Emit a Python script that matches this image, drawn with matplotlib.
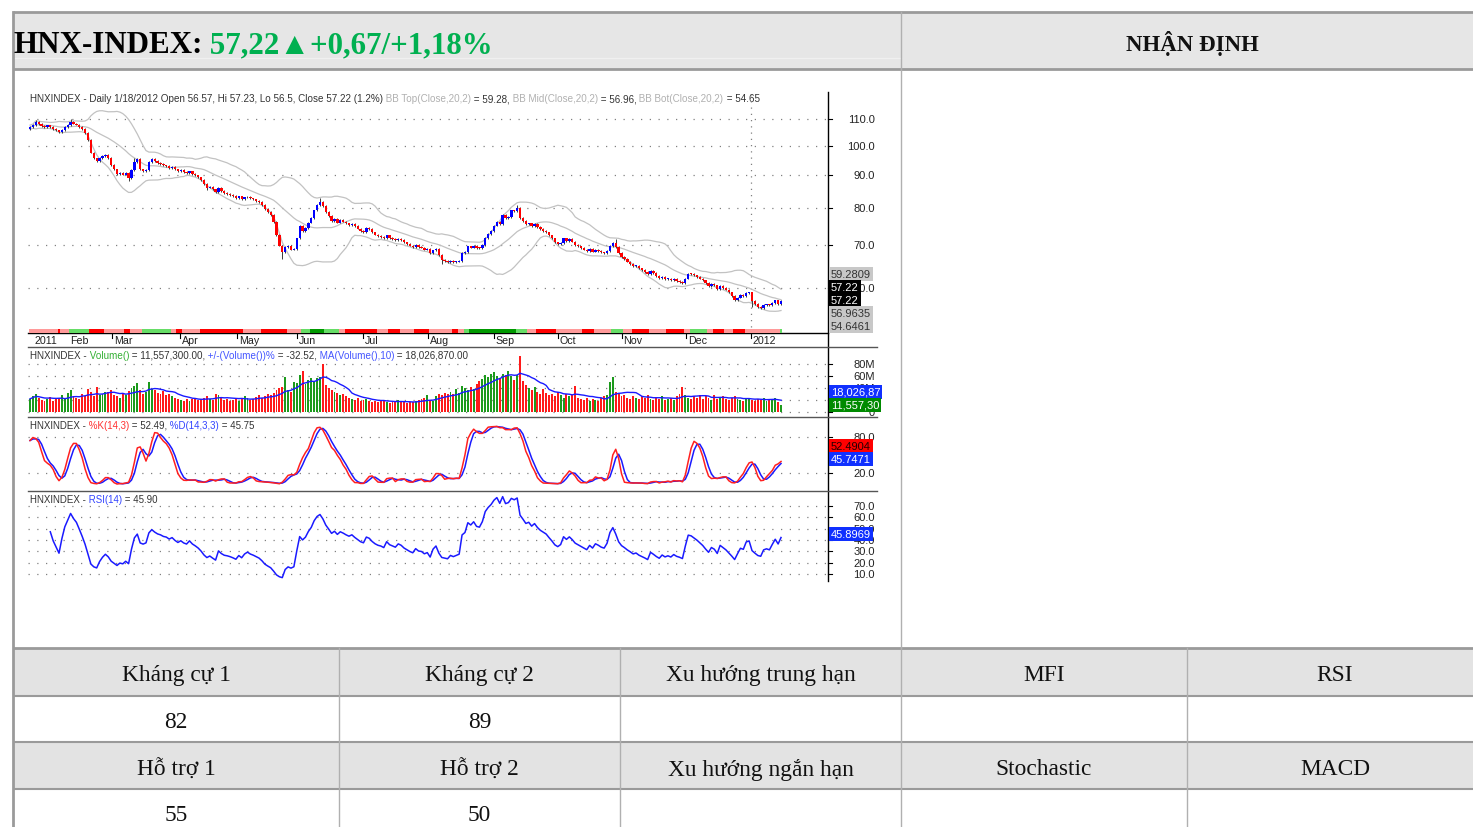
import numpy as np
import pandas as pd
import matplotlib
matplotlib.use("Agg")
import matplotlib.pyplot as plt
import matplotlib.transforms as mtrans
from matplotlib.patches import Rectangle
from matplotlib import font_manager

# ------------------------------------------------------------------ data
CLOSE = [
    106.8, 107.6, 108.7, 108.0, 107.3, 107.0, 107.5, 106.9, 106.2, 105.6,
    104.8, 105.8, 106.9, 107.7, 108.7, 108.2, 107.8, 107.0, 106.0, 104.6,
    102.0, 97.5, 95.5, 94.6, 95.6, 96.3, 96.8, 95.6, 93.2, 91.8,
    90.2, 90.6, 90.1, 90.5, 89.0, 91.6, 94.2, 95.2, 91.8, 91.3,
    91.6, 94.3, 95.3, 94.5, 93.9, 93.6, 93.1, 92.9, 92.3, 92.6,
    91.8, 91.2, 91.5, 90.9, 90.6, 91.1, 90.3, 89.8, 89.2, 88.3,
    87.0, 86.0, 86.2, 85.4, 84.6, 85.8, 84.9, 84.3, 84.1, 83.8,
    83.4, 82.9, 83.3, 82.6, 83.0, 83.2, 82.7, 82.4, 82.0, 81.6,
    80.8, 79.6, 78.8, 78.0, 76.0, 72.5, 69.8, 68.2, 69.4, 69.8,
    68.8, 69.0, 71.6, 74.8, 73.6, 74.3, 75.8, 77.0, 79.2, 80.8,
    81.6, 80.5, 78.8, 77.6, 76.2, 76.8, 75.8, 76.5, 76.1, 75.6,
    75.2, 75.5, 74.8, 74.2, 73.6, 73.3, 74.3, 74.0, 73.2, 72.6,
    72.2, 72.0, 71.6, 72.4, 71.7, 71.4, 71.1, 71.5, 71.2, 70.6,
    70.2, 69.8, 69.5, 69.9, 69.4, 69.3, 68.8, 68.9, 67.9, 68.6,
    68.9, 67.4, 66.2, 66.0, 65.8, 66.1, 65.8, 65.9, 66.0, 67.9,
    68.2, 69.6, 69.3, 69.8, 69.2, 69.1, 69.9, 71.8, 72.8, 73.6,
    75.0, 76.0, 75.3, 78.0, 77.0, 77.4, 79.2, 79.0, 79.8, 77.0,
    76.2, 75.3, 75.6, 74.8, 75.4, 74.6, 74.0, 73.6, 73.2, 72.4,
    71.6, 70.6, 70.1, 70.4, 71.6, 71.0, 71.4, 70.8, 70.0, 69.6,
    69.2, 68.8, 68.4, 68.9, 68.3, 68.8, 68.5, 68.1, 67.9, 68.4,
    69.7, 70.4, 69.4, 67.9, 67.0, 66.5, 65.9, 65.4, 64.8, 64.9,
    64.3, 63.9, 63.5, 63.0, 63.7, 63.2, 62.6, 62.1, 62.4, 61.9,
    62.0, 61.7, 61.9, 61.5, 61.3, 61.0, 62.0, 63.1, 63.0, 62.7,
    62.4, 62.0, 61.6, 61.0, 60.4, 60.8, 60.5, 59.7, 60.4, 60.0,
    59.6, 59.0, 58.3, 57.4, 57.9, 58.4, 58.2, 58.9, 59.0, 57.2,
    56.6, 56.0, 55.8, 56.4, 56.5, 56.3, 56.8, 57.3, 56.55, 57.22,
]
FIRST_OPEN = 106.2
LAST_OPEN = 56.57
HIGH_WICKS = {2: 109.7, 14: 109.9, 100: 82.9, 168: 80.7, 202: 71.4, 36: 95.6}
LOW_WICKS = {34: 87.9, 61: 85.2, 87: 66.4, 142: 65.4, 249: 55.9}

VOLUME_M = [
    22, 26, 30, 24, 20, 18, 22, 25, 19, 21,
    24, 28, 22, 31, 36, 27, 24, 22, 30, 26,
    38, 34, 26, 42, 28, 30, 34, 33, 36, 28,
    26, 24, 30, 28, 35, 40, 44, 48, 36, 30,
    34, 50, 38, 36, 32, 30, 35, 28, 30, 26,
    24, 22, 20, 18, 22, 19, 21, 24, 20, 22,
    24, 26, 22, 20, 30, 28, 24, 20, 22, 18,
    20, 23, 19, 22, 26, 24, 20, 22, 25, 28,
    24, 26, 30, 28, 32, 36, 40, 42, 58, 36,
    34, 50, 48, 62, 69, 46, 54, 57, 52, 56,
    58, 80, 45, 40, 36, 34, 32, 28, 30, 26,
    24, 22, 20, 24, 18, 20, 22, 19, 17, 18,
    16, 18, 20, 17, 15, 16, 18, 20, 17, 16,
    15, 17, 16, 18, 20, 22, 24, 28, 20, 18,
    26, 30, 28, 32, 30, 34, 30, 38, 32, 44,
    40, 36, 42, 38, 46, 52, 55, 62, 58, 64,
    66, 60, 56, 64, 62, 68, 60, 54, 62, 94,
    52, 45, 40, 36, 42, 34, 30, 38, 32, 28,
    30, 26, 34, 28, 24, 30, 26, 28, 44, 24,
    22, 20, 24, 18, 22, 20, 19, 24, 26, 28,
    50, 58, 34, 30, 26, 28, 24, 22, 26, 24,
    22, 26, 24, 28, 22, 20, 24, 22, 26, 20,
    22, 24, 20, 26, 30, 42, 28, 24, 22, 26,
    24, 28, 22, 26, 24, 20, 28, 22, 24, 26,
    22, 20, 24, 26, 22, 20, 18, 22, 24, 20,
    18, 22, 20, 24, 18, 22, 20, 24, 17, 11.56,
]

STRIP_CODES = ['P', 'R', 'P', 'G', 'R', 'P', 'R', 'P', 'G', 'P', 'R', 'P', 'R', 'P', 'R', 'P',
               'G', 'D', 'G', 'P', 'R', 'P', 'R', 'P', 'R', 'P', 'R', 'P', 'G', 'D', 'G', 'P',
               'R', 'P', 'R', 'P', 'G', 'P', 'R', 'P', 'R', 'P', 'G', 'P', 'R', 'P', 'R', 'P', 'G']
STRIP_LENGTHS = [10, 1, 3, 7, 5, 7, 2, 4, 10, 2, 2, 6, 15, 6, 9, 5,
                 3, 5, 5, 2, 11, 4, 4, 5, 5, 8, 2, 2, 2, 16, 4, 3,
                 7, 9, 4, 6, 4, 3, 6, 6, 6, 2, 6, 2, 4, 3, 4, 12, 1]

MONTH_LABELS = ["2011", "Feb", "Mar", "Apr", "May", "Jun", "Jul", "Aug", "Sep", "Oct", "Nov", "Dec", "2012"]
MONTH_POS = [0.7, 13.1, 28.2, 51.7, 71.5, 92.0, 114.9, 137.3, 160.0, 182.0, 204.0, 226.4, 248.6]
MONTH_TICKED = [False, False, True, True, True, True, True, True, True, True, True, True, True]
YEAR_BREAK = 248.6

PRICE_TICKS = [110, 100, 90, 80, 70, 60]
VOL_TICKS = [80, 60, 40, 20, 0]
VOL_TICK_LABELS = ["80M", "60M", "40M", "20M", "0"]
STOCH_TICKS = [80, 20]
RSI_TICKS = [70, 60, 50, 40, 30, 20, 10]

HEADER_BLACK = "HNX-INDEX:"
HEADER_GREEN = " 57,22\u25b2+0,67/+1,18%"
RIGHT_HEADER = "NHẬN ĐỊNH"
ROW1_LABELS = ["Kháng cự 1", "Kháng cự 2", "Xu hướng trung hạn", "MFI", "RSI"]
ROW1_VALUES = ["82", "89", "", "", ""]
ROW2_LABELS = ["Hỗ trợ 1", "Hỗ trợ 2", "Xu hướng ngắn hạn", "Stochastic", "MACD"]
ROW2_VALUES = ["55", "50", "", "", ""]

DARK = "#333333"
LGRAY = "#b0b0b0"
MAIN_TITLE = [("HNXINDEX - Daily 1/18/2012 Open 56.57, Hi 57.23, Lo 56.5, Close 57.22 (1.2%)", DARK),
              (" BB Top(Close,20,2)", LGRAY), (" = 59.28,", DARK),
              (" BB Mid(Close,20,2)", LGRAY), (" = 56.96,", DARK),
              (" BB Bot(Close,20,2)", LGRAY), (" = 54.65", DARK)]
VOL_TITLE = [("HNXINDEX -", DARK), (" Volume()", "#33b033"), (" = 11,557,300.00,", DARK),
             (" +/-(Volume())%", "#4455ff"), (" = -32.52,", DARK),
             (" MA(Volume(),10)", "#4455ff"), (" = 18,026,870.00", DARK)]
STOCH_TITLE = [("HNXINDEX -", DARK), (" %K(14,3)", "#ff3030"), (" = 52.49,", DARK),
               (" %D(14,3,3)", "#3344ff"), (" = 45.75", DARK)]
RSI_TITLE = [("HNXINDEX -", DARK), (" RSI(14)", "#3344ff"), (" = 45.90", DARK)]

MAIN_BOXES = [("59.2809", "#c8c8c8", DARK, 275), ("57.22", "black", "white", 288),
              ("57.22", "black", "white", 301), ("56.9635", "#c8c8c8", DARK, 314),
              ("54.6461", "#c8c8c8", DARK, 327)]
VOL_BOXES = [("18,026,87", "#1030ff", "white", 393), ("11,557,30", "#008a00", "white", 406)]
STOCH_BOXES = [("52.4904", "#ff0000", "#220000", 447), ("45.7471", "#1030ff", "white", 460)]
RSI_BOXES = [("45.8969", "#1030ff", "white", 535)]

# ------------------------------------------------------------------ fonts
names = {f.name for f in font_manager.fontManager.ttflist}
SMALL = "Liberation Sans Narrow" if "Liberation Sans Narrow" in names else "Liberation Sans"
SERIF = ["Liberation Serif", "DejaVu Serif"]

# ------------------------------------------------------------------ figure
W, H = 1473, 828
fig = plt.figure(figsize=(W / 100, H / 100), dpi=100)
fig.patch.set_facecolor("white")

bg = fig.add_axes([0, 0, 1, 1])
bg.set_xlim(0, W)
bg.set_ylim(H, 0)
bg.axis("off")


def add_ax(x0, y0, x1, y1):
    a = fig.add_axes([x0 / W, 1 - y1 / H, (x1 - x0) / W, (y1 - y0) / H])
    a.axis("off")
    a.patch.set_alpha(0)
    return a


# ------------------------------------------------------------------ table
COLS = [13, 339, 620, 901, 1187, 1483]
ROWS = [649, 697, 743, 790, 836]
GRID_C = "#9a9a9a"

bg.add_patch(Rectangle((13, 13), W, 57, fc="#e6e6e6", ec="none", zorder=0))
for r0, r1 in [(ROWS[0], ROWS[1]), (ROWS[2], ROWS[3])]:
    bg.add_patch(Rectangle((13, r0), W, r1 - r0, fc="#e3e3e3", ec="none", zorder=0))
bg.plot([13, 901], [59, 59], color="#f0f0f0", lw=1, zorder=1)

for y in [13, 70, ROWS[0]]:
    bg.plot([13, W], [y, y], color=GRID_C, lw=2, zorder=2, solid_capstyle="butt")
for y in ROWS[1:4]:
    bg.plot([13, W], [y, y], color=GRID_C, lw=1.5, zorder=2, solid_capstyle="butt")
bg.plot([13, 13], [13, H], color=GRID_C, lw=2, zorder=2)
bg.plot([901, 901], [13, ROWS[0]], color="#b0b0b0", lw=1, zorder=2)
for x in COLS[1:5]:
    bg.plot([x, x], [ROWS[0], H], color="#b0b0b0", lw=1, zorder=2)

centers = [(COLS[i] + COLS[i + 1]) / 2 for i in range(5)]
for row_y, texts in [(676, ROW1_LABELS), (723, ROW1_VALUES), (770, ROW2_LABELS), (816, ROW2_VALUES)]:
    for cx, t in zip(centers, texts):
        if t:
            bg.text(cx, row_y, t, ha="center", va="center", fontsize=16.8, family=SERIF, color="#111111")

bg.text(1192, 43, RIGHT_HEADER, ha="center", va="center", fontsize=16.5, family=SERIF,
        weight="bold", color="#111111")


def chain(x_px, y_px, pieces, size, target_w=None, family=SMALL, weight="normal"):
    arts = [bg.text(x_px, y_px, pieces[0][0], color=pieces[0][1], fontsize=size, family=family,
                    weight=weight, ha="left", va="baseline", zorder=5)]
    for s, c in pieces[1:]:
        arts.append(bg.annotate(s, xy=(1, 0), xycoords=arts[-1], xytext=(0, 0),
                                textcoords="offset points", ha="left", va="bottom", color=c,
                                fontsize=size, family=family, weight=weight, zorder=5))
    if target_w:
        fig.canvas.draw()
        r = fig.canvas.get_renderer()
        w = arts[-1].get_window_extent(r).x1 - arts[0].get_window_extent(r).x0
        f = target_w / w
        for a in arts:
            a.set_fontsize(size * f)
    return arts


chain(13, 53, [(HEADER_BLACK, "black"), (HEADER_GREEN, "#00b050")], 23, target_w=482,
      family=SERIF, weight="bold")

# ------------------------------------------------------------------ indicators
close = np.array(CLOSE, dtype=float)
n = len(close)
idx = np.arange(n)
open_ = np.concatenate([[FIRST_OPEN], close[:-1]])
open_[-1] = LAST_OPEN
high = np.maximum(open_, close) * 1.003
low = np.minimum(open_, close) * 0.997
for k, v in HIGH_WICKS.items():
    high[k] = v
for k, v in LOW_WICKS.items():
    low[k] = v
up = close >= open_

cs = pd.Series(close)
bb_mid = cs.rolling(20, min_periods=1).mean()
bb_sd = cs.rolling(20, min_periods=2).std(ddof=0).bfill()
bb_top = bb_mid + 2 * bb_sd
bb_bot = bb_mid - 2 * bb_sd

vol = np.array(VOLUME_M, dtype=float)
vol_ma = pd.Series(vol).rolling(10, min_periods=1).mean()

ll = pd.Series(low).rolling(14, min_periods=1).min()
hh = pd.Series(high).rolling(14, min_periods=1).max()
raw_k = 100 * (cs - ll) / (hh - ll)
slow_k = raw_k.rolling(3, min_periods=1).mean()
slow_d = slow_k.rolling(3, min_periods=1).mean()

delta = cs.diff().fillna(0)
avg_gain = delta.clip(lower=0).ewm(alpha=1 / 14, adjust=True, min_periods=8).mean()
avg_loss = (-delta.clip(upper=0)).ewm(alpha=1 / 14, adjust=True, min_periods=8).mean()
rsi = 100 - 100 / (1 + avg_gain / avg_loss.replace(0, np.nan))

# ------------------------------------------------------------------ chart axes
XL = (-0.69, 275.2)
DOT = (0, (1, 6))
DOT_C = "#808080"

ax_p = add_ax(28, 92, 828, 330)
ax_p.set_yscale("log")
ax_p.set_xlim(*XL)
ax_p.set_ylim(51.72, 121.65)
ax_s = add_ax(28, 330, 828, 334)
ax_s.set_xlim(*XL)
ax_s.set_ylim(0, 1)
ax_v = add_ax(28, 349, 828, 418)
ax_v.set_xlim(*XL)
ax_v.set_ylim(-8.33, 106.67)
ax_k = add_ax(28, 419, 828, 492)
ax_k.set_xlim(*XL)
ax_k.set_ylim(-10, 111.67)
ax_r = add_ax(28, 493, 828, 582)
ax_r.set_xlim(*XL)
ax_r.set_ylim(3.8, 82.35)

# price panel
for v in PRICE_TICKS:
    ax_p.axhline(v, color=DOT_C, ls=DOT, lw=0.9, zorder=1)
ax_p.axvline(YEAR_BREAK, color=DOT_C, ls=(0, (1, 4)), lw=0.9, ymin=0.01, ymax=0.985, zorder=1)
ax_p.plot(idx, bb_top, color="#c2c2c2", lw=0.9, zorder=2)
ax_p.plot(idx, bb_mid, color="#c2c2c2", lw=0.9, zorder=2)
ax_p.plot(idx, bb_bot, color="#c2c2c2", lw=0.9, zorder=2)
ax_p.vlines(idx, low, high, color="#3a3a3a", lw=0.7, zorder=3)
body_lo = np.minimum(open_, close)
body_h = np.maximum(np.abs(close - open_), 0.22)
ax_p.bar(idx, body_h, bottom=body_lo, width=0.8,
         color=np.where(up, "#0000ff", "#ff0000"), zorder=4, linewidth=0)

# strip
strip_colors = {"P": "#ff9a9a", "R": "#ff0000", "G": "#66dd66", "D": "#009900"}
codes = np.repeat(STRIP_CODES, STRIP_LENGTHS)
ax_s.bar(np.arange(len(codes)), 1, width=1.0, color=[strip_colors[c] for c in codes], linewidth=0)

# volume panel
for v in VOL_TICKS:
    ax_v.axhline(v, color=DOT_C, ls=DOT, lw=0.9, zorder=1)
ax_v.bar(idx, vol, width=0.66, color=np.where(up, "#1c9a1c", "#ff1a1a"), linewidth=0, zorder=2)
ax_v.plot(idx, vol_ma, color="#1a1aff", lw=1.0, zorder=3)

# stochastic panel
for v in STOCH_TICKS:
    ax_k.axhline(v, color=DOT_C, ls=DOT, lw=0.9, zorder=1)
ax_k.plot(idx, slow_d, color="#1a1aff", lw=1.1, zorder=2)
ax_k.plot(idx, slow_k, color="#ff2020", lw=1.1, zorder=3)

# rsi panel
for v in RSI_TICKS:
    ax_r.axhline(v, color=DOT_C, ls=DOT, lw=0.9, zorder=1)
ax_r.plot(idx, rsi, color="#1a1aff", lw=1.1, zorder=2)

# frame lines
bg.plot([828, 828], [93, 582], color="black", lw=1, zorder=4)
bg.plot([28, 828], [334, 334], color="black", lw=1, zorder=4)
for y in [348, 418, 492]:
    bg.plot([28, 877], [y, y], color="#555555", lw=1, zorder=4)

# month ticks & labels
tr_x = mtrans.blended_transform_factory(ax_p.transData, bg.transData)
tr_lab = mtrans.offset_copy(tr_x, fig=fig, x=2, y=0, units="dots")
fig.canvas.draw()
month_texts = []
for lab, pos, tk in zip(MONTH_LABELS, MONTH_POS, MONTH_TICKED):
    if tk:
        bg.plot([pos, pos], [334, 339], color="black", lw=0.8, transform=tr_x, clip_on=False, zorder=4)
    month_texts.append(bg.text(pos, 341.5, lab, transform=tr_lab, ha="left", va="center",
                               fontsize=6.5, family=SMALL, color="#222222", zorder=5))

# titles (fitted to the widths in the reference)
t_main = chain(30, 102, MAIN_TITLE, 6.5, target_w=730)
chain(30, 359, VOL_TITLE, 6.5, target_w=437)
chain(30, 429, STOCH_TITLE, 6.5, target_w=226)
chain(30, 503, RSI_TITLE, 6.5, target_w=128)
small = t_main[0].get_fontsize()
for t in month_texts:
    t.set_fontsize(small * 1.08)
lab_size = small * 1.12


def right_ticks(ax, values, labels):
    tr = mtrans.blended_transform_factory(bg.transData, ax.transData)
    for v, lab in zip(values, labels):
        bg.plot([828, 832], [v, v], color="black", lw=0.8, transform=tr, clip_on=False, zorder=4)
        bg.text(875, v, lab, transform=tr, ha="right", va="center", fontsize=lab_size,
                family=SMALL, color="#222222", zorder=5)


right_ticks(ax_p, PRICE_TICKS, [f"{v:.1f}" for v in PRICE_TICKS])
right_ticks(ax_v, VOL_TICKS, VOL_TICK_LABELS)
right_ticks(ax_k, STOCH_TICKS, [f"{v:.1f}" for v in STOCH_TICKS])
right_ticks(ax_r, RSI_TICKS, [f"{v:.1f}" for v in RSI_TICKS])

for boxes in [MAIN_BOXES, VOL_BOXES, STOCH_BOXES, RSI_BOXES]:
    for txt, fc, tc, y in boxes:
        bg.text(831, y, txt, ha="left", va="center", fontsize=lab_size, family=SMALL, color=tc,
                zorder=7, bbox=dict(boxstyle="square,pad=0.18", fc=fc, ec="none"))

fig.savefig("out.png", dpi=100, facecolor="white")
